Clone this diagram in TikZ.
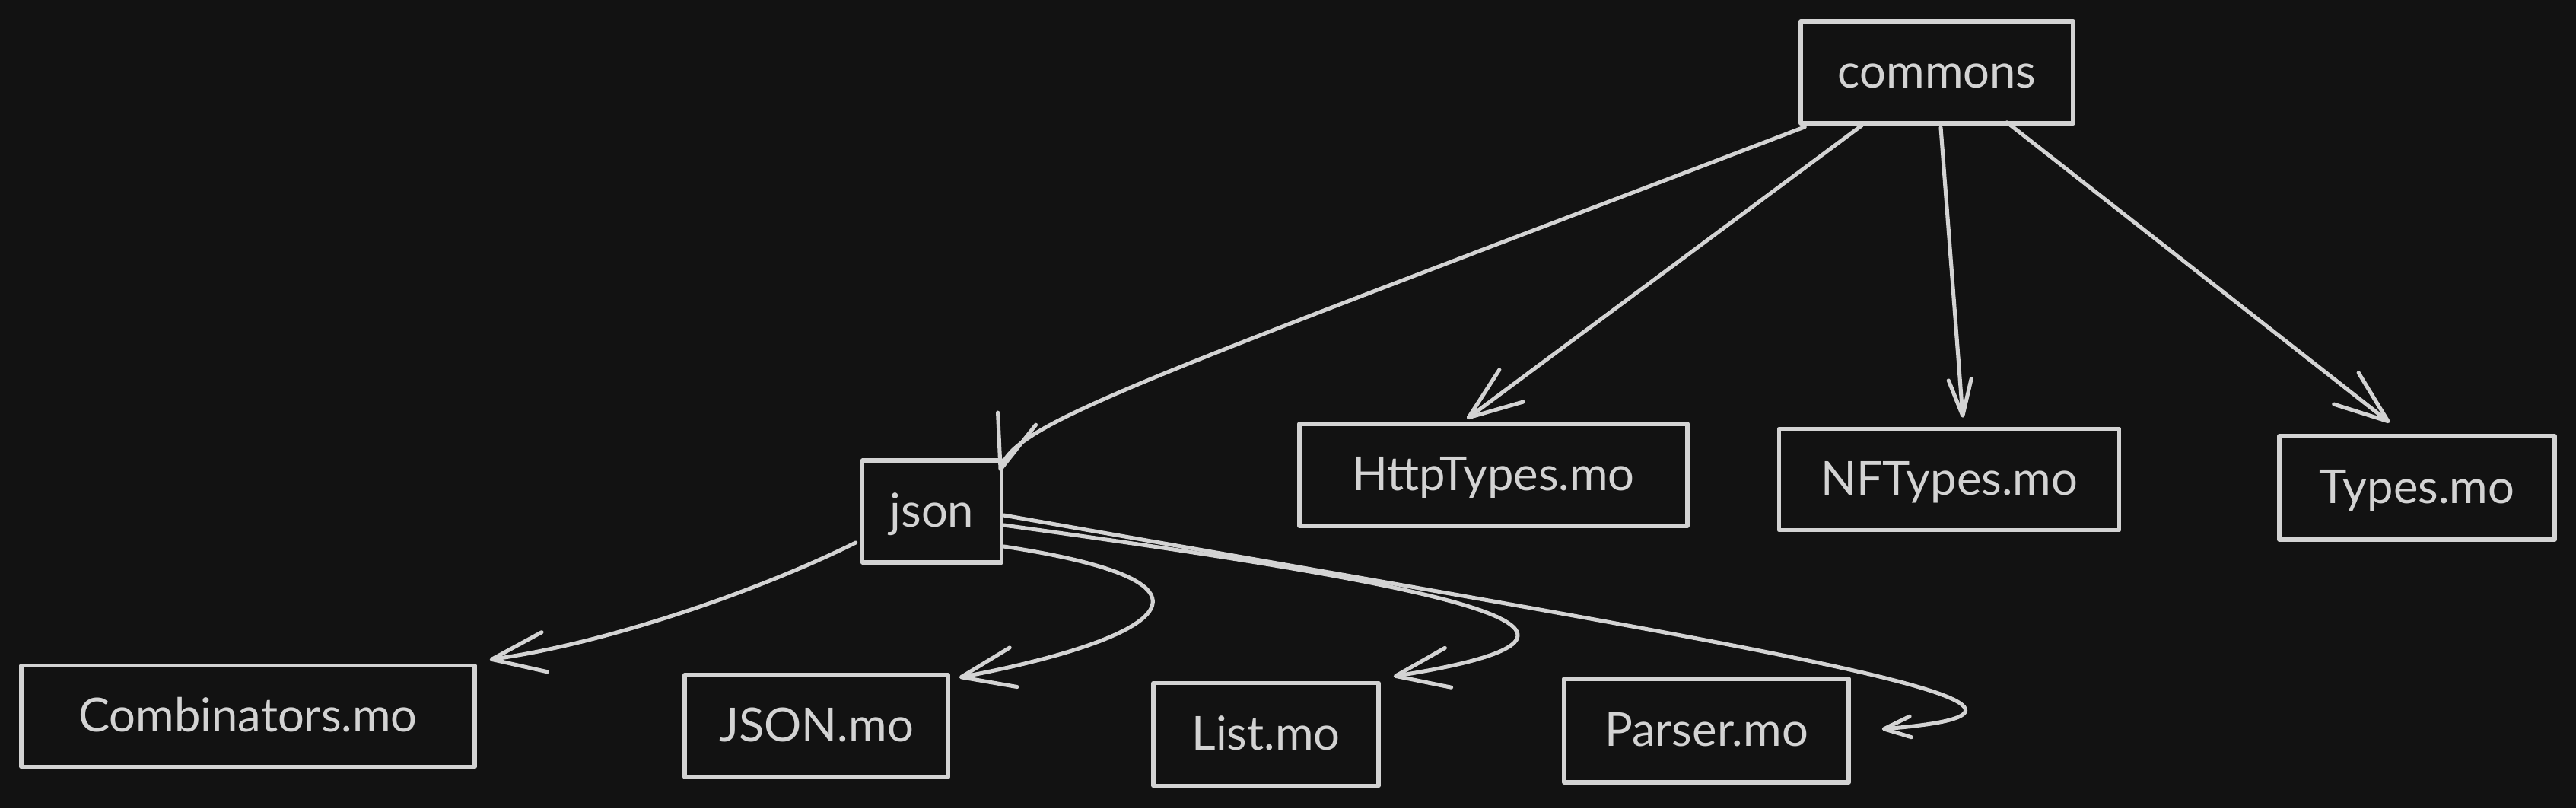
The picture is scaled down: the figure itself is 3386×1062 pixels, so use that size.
\documentclass[tikz,border=0pt]{standalone}
\usepackage{fontspec}
\setmainfont{Lato}
\usetikzlibrary{arrows.meta,calc}
\definecolor{bg}{HTML}{121212}
\definecolor{fg}{HTML}{D3D3D3}
\newcommand{\boxlbl}[1]{\raisebox{\dimexpr-0.5ex-2.8pt\relax}[0pt][0pt]{#1}}
\begin{document}
\begin{tikzpicture}[x=0.02cm,y=-0.02cm,
  box/.style={draw=fg, line width=3.2pt, rectangle, inner sep=0pt, text=fg,
    line join=round, font=\fontsize{35}{42}\selectfont},
  conn/.style={draw=fg, line width=2.9pt, line cap=round, line join=round,
    -{Straight Barb[round, length=1.4cm, width=1.05cm]}},
  narrowtip/.style={-{Straight Barb[round, length=0.95cm, width=0.6cm]}},
  smalltip/.style={-{Straight Barb[round, length=0.7cm, width=0.55cm]}}]
\fill[bg] (0,0) rectangle (3386,1062);
\useasboundingbox (0,0) rectangle (3386,1062);

\node[box, minimum width=7.16cm, minimum height=2.68cm] (commons) at (2546,95) {\boxlbl{commons}};
\node[box, minimum width=3.66cm, minimum height=2.68cm] (json) at (1225,672) {\boxlbl{json}};
\node[box, minimum width=10.2cm, minimum height=2.68cm] (http) at (1963,624) {\boxlbl{HttpTypes.mo}};
\node[box, minimum width=8.94cm, minimum height=2.66cm] (nft) at (2562,630) {\boxlbl{NFTypes.mo}};
\node[box, minimum width=7.24cm, minimum height=2.72cm] (types) at (3177,641) {\boxlbl{Types.mo}};
\node[box, minimum width=11.92cm, minimum height=2.66cm] (comb) at (326,941) {\boxlbl{Combinators.mo}};
\node[box, minimum width=6.92cm, minimum height=2.68cm] (jsonmo) at (1073,954) {\boxlbl{JSON.mo}};
\node[box, minimum width=5.92cm, minimum height=2.7cm] (list) at (1664,965) {\boxlbl{List.mo}};
\node[box, minimum width=7.48cm, minimum height=2.72cm] (parser) at (2243,960) {\boxlbl{Parser.mo}};

% commons -> children
\draw[conn] ($(commons.south west)+(8,2)$) .. controls (1500,500) and (1335,555) .. ($(json.north east)+(-5,17)$);
\draw[conn] ($(commons.south west)+(83,0)$) -- ($(http.north west)+(223,-4)$);
\draw[conn, narrowtip] ($(commons.south)+(5,3)$) -- ($(nft.north)+(18,-12)$);
\draw[conn] ($(commons.south)+(92,-4)$) -- ($(types.north)+(-36,-15)$);

% json -> children
\draw[conn] ($(json.west)+(-6,41)$) .. controls (1000,775) and (800,845) .. ($(comb.north east)+(17,-5)$);
\draw[conn] ($(json.east)+(0,46)$) .. controls (1660,770) and (1500,845) .. ($(jsonmo.north east)+(12,6)$);
\draw[conn] ($(json.east)+(0,18)$) .. controls (1900,770) and (2200,830) .. ($(list.north east)+(17,-6)$);
\draw[conn, smalltip] ($(json.east)+(0,5)$) .. controls (2300,850) and (2820,930) .. ($(parser.east)+(41,-2)$);
\end{tikzpicture}
\end{document}
